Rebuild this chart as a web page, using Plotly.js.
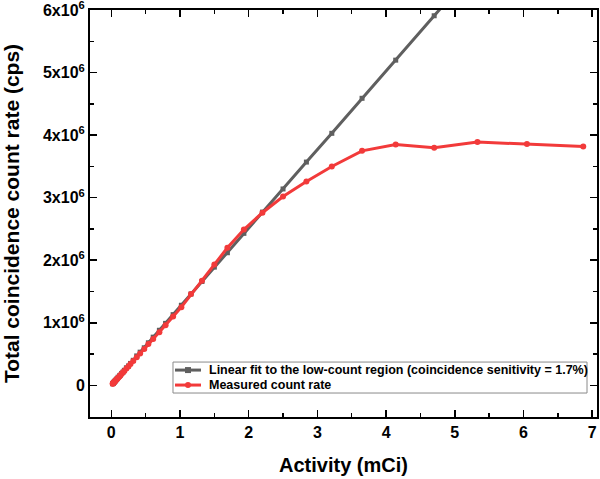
<!DOCTYPE html>
<html>
<head>
<meta charset="utf-8">
<script src="https://cdn.plot.ly/plotly-3.0.1.min.js"></script>
<style>html,body{margin:0;padding:0;background:#fff;}#chart{width:600px;height:479px;}</style>
</head>
<body>
<div id="chart"></div>
<script>
// Activity (mCi)
var activity = [6.87, 6.05, 5.33, 4.70, 4.14, 3.65, 3.21, 2.84, 2.50, 2.20, 1.93, 1.69, 1.50, 1.32, 1.16, 1.02,
  0.90, 0.79, 0.70, 0.61, 0.54, 0.48, 0.42, 0.37, 0.32, 0.28, 0.25, 0.22, 0.19, 0.17, 0.15, 0.13, 0.12,
  0.10, 0.09, 0.08, 0.07, 0.06, 0.055, 0.048, 0.042, 0.037, 0.033, 0.029, 0.025, 0.022, 0.020];
// Linear fit values (x10^6 cps)
var fitRate = [8.64, 7.60, 6.70, 5.91, 5.20, 4.59, 4.03, 3.57, 3.14, 2.77, 2.43, 2.12, 1.89, 1.66, 1.46, 1.28,
  1.13, 0.99, 0.88, 0.77, 0.68, 0.60, 0.53, 0.47, 0.40, 0.35, 0.31, 0.28, 0.24, 0.21, 0.19, 0.16, 0.15,
  0.13, 0.11, 0.10, 0.088, 0.075, 0.069, 0.060, 0.053, 0.047, 0.041, 0.036, 0.031, 0.028, 0.025];
// Measured count rate (x10^6 cps)
var measuredRate = [3.82, 3.86, 3.89, 3.80, 3.85, 3.75, 3.50, 3.26, 3.02, 2.76, 2.49, 2.20, 1.93, 1.67, 1.46, 1.25,
  1.10, 0.96, 0.85, 0.74, 0.66, 0.58, 0.51, 0.45, 0.39, 0.34, 0.30, 0.27, 0.23, 0.21, 0.18, 0.16, 0.14,
  0.12, 0.11, 0.10, 0.085, 0.075, 0.066, 0.058, 0.051, 0.045, 0.040, 0.035, 0.031, 0.027, 0.024];
var seriesNames = ['Linear fit to the low-count region (coincidence senitivity = 1.7%)', 'Measured count rate'];
var seriesColors = ['#5f5f5f', '#f23a3a'];
var yTickVals = [0, 1e6, 2e6, 3e6, 4e6, 5e6, 6e6];
var yTickText = ['0', '1x10<sup>6</sup>', '2x10<sup>6</sup>', '3x10<sup>6</sup>', '4x10<sup>6</sup>', '5x10<sup>6</sup>', '6x10<sup>6</sup>'];
var xTickVals = [0, 1, 2, 3, 4, 5, 6, 7];

var scale = 1e6;
var fitY = fitRate.map(function(v){return v*scale;});
var measY = measuredRate.map(function(v){return v*scale;});

var FONT = 'Liberation Sans, Arial, Helvetica, sans-serif';

var traces = [
  {x: activity, y: fitY, name: seriesNames[0], type: 'scatter', mode: 'lines+markers',
   line: {color: seriesColors[0], width: 3}, marker: {symbol: 'square', size: 5, color: seriesColors[0]}},
  {x: activity, y: measY, name: seriesNames[1], type: 'scatter', mode: 'lines+markers',
   line: {color: seriesColors[1], width: 3}, marker: {symbol: 'circle', size: 6, color: seriesColors[1]}}
];

// Legend drawn as a framed box inside the plot (paper coordinates)
var legBox = {x0: 0.1637, x1: 0.9803, y0: 0.0589, y1: 0.135};
var legRows = [0.1153, 0.0785];
var legSample = {x0: 0.1677, x1: 0.2189, xm: 0.1933};
var legTextX = 0.2308;

var shapes = [
  {type: 'rect', xref: 'paper', yref: 'paper', x0: legBox.x0, x1: legBox.x1, y0: legBox.y0, y1: legBox.y1,
   line: {color: '#8a8a8a', width: 1}, fillcolor: '#ffffff', layer: 'above'}
];
var annotations = [];
seriesNames.forEach(function(name, i){
  shapes.push({type: 'line', xref: 'paper', yref: 'paper', x0: legSample.x0, x1: legSample.x1,
    y0: legRows[i], y1: legRows[i], line: {color: seriesColors[i], width: 3}, layer: 'above'});
  shapes.push({type: i === 0 ? 'rect' : 'circle', xref: 'paper', yref: 'paper',
    xsizemode: 'pixel', ysizemode: 'pixel', xanchor: legSample.xm, yanchor: legRows[i],
    x0: -3, x1: 3, y0: -3, y1: 3, line: {width: 0}, fillcolor: seriesColors[i], layer: 'above'});
  annotations.push({xref: 'paper', yref: 'paper', x: legTextX, y: legRows[i], xanchor: 'left', yanchor: 'middle',
    text: name, showarrow: false,
    font: {family: FONT, size: 12.5, color: '#000', weight: 'bold'}});
});

var axisCommon = {
  showline: true, linecolor: '#000', linewidth: 2, mirror: 'ticks',
  ticks: 'inside', ticklen: 7, tickwidth: 1.5, tickcolor: '#000',
  showgrid: false, zeroline: false, ticklabeloverflow: 'allow',
  tickfont: {family: FONT, size: 16, color: '#000', weight: 'bold'}
};

var layout = {
  width: 600, height: 479,
  margin: {l: 90, r: 3, t: 9.5, b: 62, pad: 0, autoexpand: false},
  paper_bgcolor: '#fff', plot_bgcolor: '#fff',
  showlegend: false,
  shapes: shapes,
  annotations: annotations,
  xaxis: Object.assign({}, axisCommon, {
    range: [-0.31, 7.07], tickmode: 'array', tickvals: xTickVals,
    minor: {ticks: 'inside', ticklen: 4, tickwidth: 1.5, tickcolor: '#000', tickmode: 'linear', tick0: 0, dtick: 0.5},
    title: {text: 'Activity (mCi)', font: {family: FONT, size: 20, color: '#000', weight: 'bold'}, standoff: 18}
  }),
  yaxis: Object.assign({}, axisCommon, {
    range: [-0.507e6, 6.002e6], tickmode: 'array', tickvals: yTickVals, ticktext: yTickText,
    minor: {ticks: 'inside', ticklen: 4, tickwidth: 1.5, tickcolor: '#000', tickmode: 'linear', tick0: 0, dtick: 0.5e6},
    title: {text: 'Total coincidence count rate (cps)', font: {family: FONT, size: 21, color: '#000', weight: 'bold'}, standoff: 24}
  })
};

Plotly.newPlot('chart', traces, layout, {displayModeBar: false, staticPlot: true});
</script>
</body>
</html>
